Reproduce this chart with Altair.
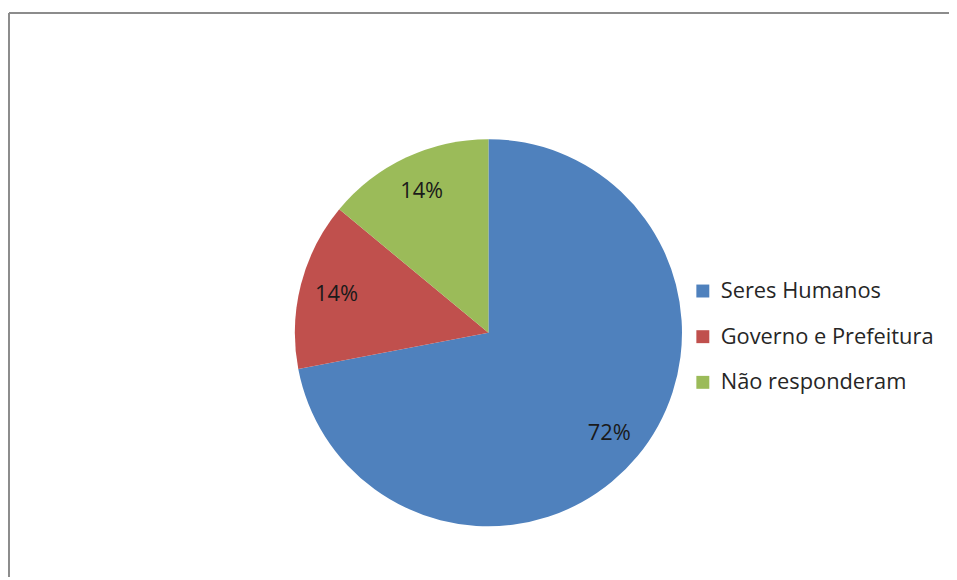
import altair as alt
import pandas as pd

categories = ["Seres Humanos", "\u00a0Governo e Prefeitura", "Não responderam"]
values = [72, 14, 14]
labels = ["72%", "14%", "14%"]
colors = ["#4F81BD", "#C0504D", "#9BBB59"]

df = pd.DataFrame({"categoria": categories, "valor": values, "rotulo": labels, "ordem": [0, 1, 2]})

W, H = 947, 568
CX, CY = 483, 322
FONT = "Open Sans"

base = alt.Chart(df).encode(
    theta=alt.Theta("valor:Q", stack=True),
    order=alt.Order("ordem:Q"),
)

pie = base.mark_arc(outerRadius=195).encode(
    x=alt.value(CX), y=alt.value(CY),
    color=alt.Color(
        "categoria:N",
        scale=alt.Scale(domain=categories, range=colors),
        sort=categories,
        legend=alt.Legend(
            title=None, orient="none", legendX=688, legendY=269,
            symbolType="square", symbolSize=170, symbolStrokeWidth=0,
            labelFontSize=22, labelFont=FONT, labelColor="#262626",
            rowPadding=24, labelOffset=7, labelLimit=400,
        ),
    ),
)

text = base.mark_text(radius=158, fontSize=22, font=FONT, color="#1a1a1a").encode(
    x=alt.value(CX), y=alt.value(CY),
    text="rotulo:N",
)

frame_data = alt.Data(values=[{"a": 1}])
top_rule = alt.Chart(frame_data).mark_rule(color="#8c8c8c", strokeWidth=2).encode(
    x=alt.value(0), x2=alt.value(W), y=alt.value(0)
)
left_rule = alt.Chart(frame_data).mark_rule(color="#8c8c8c", strokeWidth=2).encode(
    x=alt.value(0), y=alt.value(0), y2=alt.value(H)
)

chart = alt.layer(top_rule, left_rule, pie, text).properties(
    width=W, height=H,
    autosize=alt.AutoSizeParams(type="none"),
    padding={"left": 1, "top": 3, "right": 0, "bottom": 0},
).configure_view(stroke=None)

chart.save("out.html", embed_options={"renderer": "svg", "actions": False})
